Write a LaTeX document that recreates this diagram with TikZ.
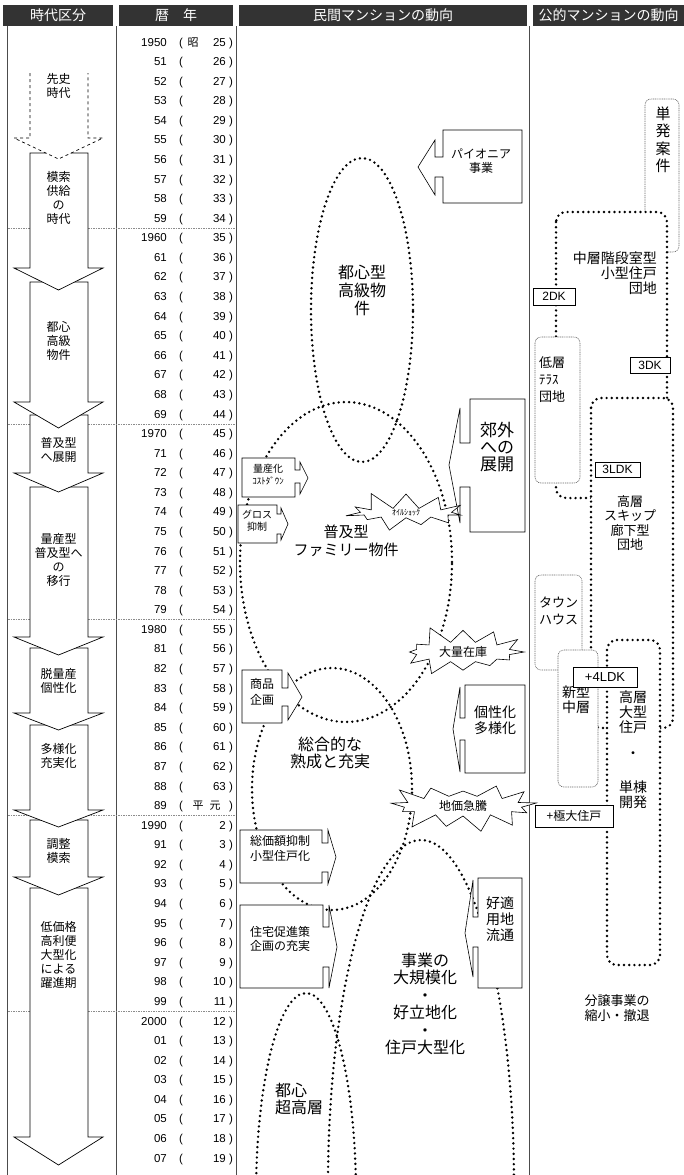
\documentclass[tikz,border=0pt]{standalone}
\usepackage{fontspec}
\setmainfont{Noto Sans CJK JP}
\newfontfamily\lat{Liberation Sans}
\usetikzlibrary{shapes.symbols}
\newcommand\setfs[2]{\fontsize{#1}{#2}\selectfont}
\begin{document}
\begin{tikzpicture}[x=1pt,y=-1pt,
  hdr/.style={fill=black!80, text=white, font=\setfs{14}{16}, inner sep=0, minimum height=21pt},
  gridline/.style={draw=black!70, line width=0.7pt},
  decline/.style={draw=black!45, line width=0.5pt, dash pattern=on 1.5pt off 1pt},
  bigarrow/.style={draw=black, fill=white, line width=0.7pt, line join=miter},
  arrtxt/.style={font=\setfs{12}{14}, align=center, inner sep=0},
  yrtxt/.style={font=\lat\setfs{11.5}{12}, inner sep=0},
  bigdots/.style={draw=black, line width=2.7pt, dash pattern=on 0pt off 5.2pt, line cap=round},
  shp/.style={draw=black, fill=white, line width=0.6pt},
  thindot/.style={draw=black!60, fill=white, line width=0.6pt, dash pattern=on 1pt off 0.8pt, rounded corners=6pt},
  burst/.style={starburst, draw=black, fill=white, line width=0.6pt, inner sep=0pt, starburst point height=19pt},
  lbl/.style={inner sep=0, align=center},
  tagbox/.style={draw=black, fill=white, line width=0.6pt, inner sep=0},
]
\useasboundingbox (0,0) rectangle (684,1175);
\begin{scope}
\clip (0,0) rectangle (684,1175);
% header
\node[hdr, minimum width=110pt] (h1) at (58,15.5) {時代区分};
\node[hdr, minimum width=114pt] (h2) at (176,15.5) {暦　年};
\node[hdr, minimum width=288pt] (h3) at (383,15.5) {民間マンションの動向};
\node[hdr, minimum width=151pt] (h4) at (608.5,15.5) {公的マンションの動向};
% grid lines
\draw[gridline] (7,26) -- (7,1175);
\draw[gridline] (116,26) -- (116,1175);
\draw[gridline] (236,26) -- (236,1175);
\draw[gridline] (529,26) -- (529,1175);
\foreach \k in {1,...,5}{
  \pgfmathsetmacro\yl{42+19.58*(10*\k-0.5)}
  \draw[decline] (8,\yl) -- (235,\yl);
}
% years
\foreach \i in {0,...,57}{%
  \pgfmathsetmacro\yb{46+19.58*\i}%
  \pgfmathtruncatemacro\yr{1950+\i}%
  \pgfmathtruncatemacro\two{mod(\yr,100)}%
  \pgfmathtruncatemacro\dec{mod(\i,10)}%
  \pgfmathtruncatemacro\sh{\i<39 ? \i+25 : \i-38}%
  \node[yrtxt, anchor=base east] (yr\i) at (167,\yb) {\ifnum\dec=0 \yr\else\ifnum\two<10 0\fi\two\fi};
  \node[yrtxt, anchor=base] (lp\i) at (181,\yb) {(};
  \node[yrtxt, anchor=base] (rp\i) at (231,\yb) {)};
  \ifnum\i=39
    \node[inner sep=0, font=\setfs{11}{12}, anchor=base] (hei) at (198,\yb) {平};
    \node[inner sep=0, font=\setfs{11}{12}, anchor=base] (gen) at (215,\yb) {元};
  \else
    \node[yrtxt, anchor=base east] (sh\i) at (226,\yb) {\sh};
  \fi
  \ifnum\i=0
    \node[inner sep=0, font=\setfs{11}{12}, anchor=base] (sho) at (193,\yb) {昭};
  \fi
}
% left column arrows (bottom first)
\foreach \t/\w/\p in {888/1137/1165, 820/877/895, 725/810/827, 648/713/730, 487/637/655, 415/473/492, 282/402/428, 153/268/290}{
  \draw[bigarrow] (30,\t) -- (30,\w) -- (14,\w) -- (58.5,\p) -- (103,\w) -- (88,\w) -- (88,\t) -- cycle;
}
\draw[bigarrow, dashed] (30,73) -- (30,138) -- (14,138) -- (58.5,159) -- (103,138) -- (88,138) -- (88,73);
\node[arrtxt] (a1) at (58.5,86) {先史\\時代};
\node[arrtxt] (a2) at (58.5,198) {模索\\供給\\の\\時代};
\node[arrtxt] (a3) at (58.5,341) {都心\\高級\\物件};
\node[arrtxt] (a4) at (58.5,450) {普及型\\へ展開};
\node[arrtxt] (a5) at (58.5,560) {量産型\\普及型へ\\の\\移行};
\node[arrtxt] (a6) at (58.5,681) {脱量産\\個性化};
\node[arrtxt] (a7) at (58.5,756) {多様化\\充実化};
\node[arrtxt] (a8) at (58.5,851) {調整\\模索};
\node[arrtxt] (a9) at (58.5,955) {低価格\\高利便\\大型化\\による\\躍進期};
% middle column ellipses
\draw[bigdots] (362,310) ellipse [x radius=51pt, y radius=152pt];
\draw[bigdots] (346,562) ellipse [x radius=106pt, y radius=160pt];
\draw[bigdots] (332,789) ellipse [x radius=80pt, y radius=121pt];
\draw[bigdots] (421,1185) ellipse [x radius=93pt, y radius=345pt];
\draw[bigdots] (306,1195) ellipse [x radius=50pt, y radius=202pt];
\node[lbl, font=\setfs{16}{18}] (e1) at (362,290) {都心型\\高級物\\件};
\node[lbl, font=\setfs{15}{18}] (e2) at (346,541) {普及型\\ファミリー物件};
\node[lbl, font=\setfs{16}{17}] (e3) at (330,753) {総合的な\\熟成と充実};
\node[lbl, font=\setfs{16}{17.4}] (e4) at (425,1004) {事業の\\大規模化\\・\\好立地化\\・\\住戸大型化};
\node[lbl, font=\setfs{16}{17}, align=left, anchor=west] (e5) at (275,1099) {都心\\超高層};
% middle column block arrows
\draw[shp] (522,130) -- (443,130) -- (443,157) -- (435,157) -- (435,140) -- (418,167) -- (435,195) -- (435,177) -- (443,177) -- (443,203) -- (522,203) -- cycle;
\node[lbl, font=\setfs{12}{14}] (pio) at (481,161) {パイオニア\\事業};
\draw[shp] (525,399) -- (470,399) -- (470,443) -- (460,443) -- (460,408) -- (449,465) -- (460,523) -- (460,487) -- (470,487) -- (470,532) -- (525,532) -- cycle;
\node[lbl, font=\setfs{17}{17}] (kogai) at (497,447) {郊外\\への\\展開};
\draw[shp] (525,685) -- (465,685) -- (465,718) -- (460,718) -- (460,687) -- (453,729) -- (460,772) -- (460,740) -- (465,740) -- (465,773) -- (525,773) -- cycle;
\node[lbl, font=\setfs{14}{15.5}] (kosei) at (495,720) {個性化\\多様化};
\draw[shp] (522,878) -- (478,878) -- (478,917) -- (473,917) -- (473,880) -- (465,933) -- (473,977) -- (473,947) -- (478,947) -- (478,988) -- (522,988) -- cycle;
\node[lbl, font=\setfs{14}{16}] (koteki) at (500,919) {好適\\用地\\流通};
\draw[shp] (242,458) -- (295,458) -- (295,470) -- (300,470) -- (300,462) -- (308,478) -- (300,494) -- (300,483) -- (295,483) -- (295,497) -- (242,497) -- cycle;
\node[lbl] (ryo) at (268,475) {\setfs{10}{12}量産化\\\setfs{9}{12}ｺｽﾄﾀﾞｳﾝ};
\draw[shp] (238,505) -- (277,505) -- (277,514) -- (281,514) -- (281,508) -- (288,524) -- (281,540) -- (281,534) -- (277,534) -- (277,543) -- (238,543) -- cycle;
\node[lbl, font=\setfs{10}{12}] (gross) at (257,521) {グロス\\抑制};
\draw[shp] (242,670) -- (282,670) -- (282,688) -- (288,688) -- (288,673) -- (302,697) -- (288,720) -- (288,706) -- (282,706) -- (282,723) -- (242,723) -- cycle;
\node[lbl, font=\setfs{12}{16}] (shohin) at (262,692) {商品\\企画};
\draw[shp] (240,830) -- (322,830) -- (322,843) -- (328,843) -- (328,830) -- (336,857) -- (328,884) -- (328,872) -- (322,872) -- (322,883) -- (240,883) -- cycle;
\node[lbl, font=\setfs{12}{15}] (sokagaku) at (280,848) {総価額抑制\\小型住戸化};
\draw[shp] (240,905) -- (323,905) -- (323,927) -- (329,927) -- (329,905) -- (337,947) -- (329,988) -- (329,967) -- (323,967) -- (323,988) -- (240,988) -- cycle;
\node[lbl, font=\setfs{12}{14}] (jutaku) at (280,939) {住宅促進策\\企画の充実};
% bursts
\node[burst, minimum width=130pt, minimum height=46pt, starburst points=11, random starburst=11] (oil) at (406,513) {\setfs{8}{9}ｵｲﾙｼｮｯｸ};
\node[burst, minimum width=134pt, minimum height=58pt, starburst points=12, random starburst=5] (stock) at (463,652) {\setfs{12}{14}大量在庫};
\node[burst, minimum width=156pt, minimum height=58pt, starburst points=13, random starburst=23] (land) at (463,806) {\setfs{12}{14}地価急騰};
% right column
\draw[thindot] (645,99) rectangle (679,252);
\node[lbl, font=\setfs{15}{17.5}] (tanpatsu) at (663,140) {単\\発\\案\\件};
\draw[bigdots, fill=white, rounded corners=10pt] (556,212) rectangle (667,498);
\node[lbl, align=right, font=\setfs{14}{15}, anchor=north east] (chuso) at (657,252) {中層階段室型\\小型住戸\\団地};
\draw[thindot] (535,337) rectangle (580,483);
\node[lbl, align=left, font=\setfs{13}{17}, anchor=west] (teiso) at (539,380) {低層\\ﾃﾗｽ\\団地};
\node[tagbox, font=\lat\setfs{12}{14}, minimum width=42pt, minimum height=17pt] (dk2) at (554,296.5) {2DK};
\node[tagbox, font=\lat\setfs{12}{14}, minimum width=40pt, minimum height=16pt] (dk3) at (650,365) {3DK};
\draw[bigdots, fill=white, rounded corners=10pt] (591,398) rectangle (673,728);
\node[tagbox, font=\lat\setfs{12}{14}, minimum width=45pt, minimum height=15pt] (ldk3) at (617.5,469.5) {3LDK};
\node[lbl, font=\setfs{13}{14.5}] (koso) at (630,523) {高層\\スキップ\\廊下型\\団地};
\draw[thindot] (535,575) rectangle (582,670);
\node[lbl, align=left, font=\setfs{13}{17}, anchor=west] (town) at (539,611) {タウン\\ハウス};
\draw[thindot] (558,650) rectangle (598,787);
\node[lbl, font=\setfs{14}{15}] (shingata) at (576,700) {新型\\中層};
\draw[bigdots, fill=white, rounded corners=10pt] (607,640) rectangle (660,965);
\node[lbl, font=\setfs{14}{15}] (oogata) at (633,712) {高層\\大型\\住戸};
\node[lbl, font=\setfs{14}{15}] (naka) at (633,755) {・};
\node[lbl, font=\setfs{14}{15}] (tanto) at (633,795) {単棟\\開発};
\node[tagbox, font=\lat\setfs{13}{14}, minimum width=64pt, minimum height=20pt] (ldk4) at (605,677) {+4LDK};
\node[tagbox, font=\setfs{12}{14}, minimum width=78pt, minimum height=22pt] (kyodai) at (574,816) {+極大住戸};
\node[lbl, font=\setfs{13}{15}] (bunjo) at (617,1008) {分譲事業の\\縮小・撤退};
\end{scope}
\end{tikzpicture}
\end{document}
